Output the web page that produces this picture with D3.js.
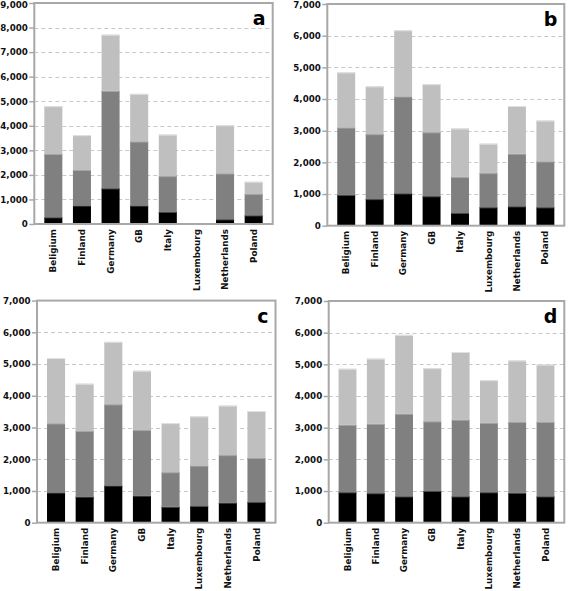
<!DOCTYPE html>
<html>
<head>
<meta charset="utf-8">
<script src="https://cdn.jsdelivr.net/npm/d3@7"></script>
<style>
  html, body { margin: 0; padding: 0; background: #ffffff; }
  svg { display: block; }
</style>
</head>
<body>
<svg id="chart" width="568" height="591"></svg>
<script>
// ---------- data ----------
const categories = ["Beligium", "Finland", "Germany", "GB", "Italy", "Luxembourg", "Netherlands", "Poland"];
const seriesKeys = ["s1", "s2", "s3"];

// Panel a
const aSeries1 = [270, 750, 1450, 750, 490, 0, 190, 350];
const aSeries2 = [2580, 1450, 3970, 2610, 1460, 0, 1870, 870];
const aSeries3 = [1950, 1420, 2290, 1940, 1690, 0, 1960, 500];
const aTicks = [0, 1000, 2000, 3000, 4000, 5000, 6000, 7000, 8000, 9000];

// Panel b
const bSeries1 = [970, 840, 1020, 930, 400, 580, 610, 580];
const bSeries2 = [2130, 2050, 3060, 2020, 1140, 1080, 1660, 1450];
const bSeries3 = [1740, 1510, 2090, 1520, 1530, 930, 1510, 1290];
const bTicks = [0, 1000, 2000, 3000, 4000, 5000, 6000, 7000];

// Panel c
const cSeries1 = [950, 820, 1170, 850, 500, 525, 630, 650];
const cSeries2 = [2180, 2070, 2560, 2070, 1090, 1275, 1500, 1390];
const cSeries3 = [2060, 1490, 1970, 1870, 1550, 1550, 1560, 1480];
const cTicks = [0, 1000, 2000, 3000, 4000, 5000, 6000, 7000];

// Panel d
const dSeries1 = [960, 930, 830, 1000, 830, 960, 940, 830];
const dSeries2 = [2130, 2190, 2610, 2200, 2420, 2190, 2240, 2350];
const dSeries3 = [1770, 2060, 2490, 1680, 2140, 1350, 1940, 1810];
const dTicks = [0, 1000, 2000, 3000, 4000, 5000, 6000, 7000];

const panelLetters = ["a", "b", "c", "d"];
const segmentColors = ["#000000", "#808080", "#bfbfbf"];
const segmentEdge = ["#4a4a4a", "#a6a6a6", "#e2e2e2"];

// ---------- layout ----------
const panels = [
  { letter: panelLetters[0], s: [aSeries1, aSeries2, aSeries3], ticks: aTicks,
    left: 34.3, right: 272.7, top: 3, bottom: 224 },
  { letter: panelLetters[1], s: [bSeries1, bSeries2, bSeries3], ticks: bTicks,
    left: 327.3, right: 564.3, top: 4, bottom: 225.7 },
  { letter: panelLetters[2], s: [cSeries1, cSeries2, cSeries3], ticks: cTicks,
    left: 37, right: 275.5, top: 300.6, bottom: 522.7 },
  { letter: panelLetters[3], s: [dSeries1, dSeries2, dSeries3], ticks: dTicks,
    left: 328.7, right: 564.3, top: 301, bottom: 522.7 }
];

const svg = d3.select("#chart");
const frameColor = "#a8a8a8";
const fontFam = "'DejaVu Sans', sans-serif";

panels.forEach(p => {
  const rows = categories.map((c, i) => ({ cat: c, s1: p.s[0][i], s2: p.s[1][i], s3: p.s[2][i] }));
  const stacked = d3.stack().keys(seriesKeys)(rows);
  const maxV = d3.max(p.ticks);

  const x = d3.scaleBand().domain(categories).range([p.left, p.right])
    .paddingInner(0.37).paddingOuter(0.35);
  const y = d3.scaleLinear().domain([0, maxV]).range([p.bottom, p.top]);

  const g = svg.append("g");

  // gridlines
  g.selectAll("line.grid").data(p.ticks.filter(t => t > 0 && t < maxV)).join("line")
    .attr("x1", p.left).attr("x2", p.right)
    .attr("y1", d => Math.round(y(d)) + 0.5).attr("y2", d => Math.round(y(d)) + 0.5)
    .attr("stroke", "#c8c8c8").attr("stroke-width", 1).attr("stroke-dasharray", "4,3");

  // bars
  stacked.forEach((layer, li) => {
    const lg = g.append("g");
    lg.selectAll("rect").data(layer).join("rect")
      .attr("x", d => x(d.data.cat))
      .attr("width", x.bandwidth())
      .attr("y", d => y(d[1]))
      .attr("height", d => Math.max(0, y(d[0]) - y(d[1])))
      .attr("fill", segmentColors[li]);
    lg.selectAll("line").data(layer.filter(d => d[1] > d[0])).join("line")
      .attr("x1", d => x(d.data.cat)).attr("x2", d => x(d.data.cat) + x.bandwidth())
      .attr("y1", d => y(d[1]) + 0.5).attr("y2", d => y(d[1]) + 0.5)
      .attr("stroke", segmentEdge[li]).attr("stroke-width", 1);
  });

  // frame
  g.append("rect")
    .attr("x", p.left).attr("y", p.top)
    .attr("width", p.right - p.left).attr("height", p.bottom - p.top)
    .attr("fill", "none").attr("stroke", frameColor).attr("stroke-width", 2);

  // y axis
  const yAxis = d3.axisLeft(y).tickValues(p.ticks).tickSize(5).tickPadding(1.5)
    .tickFormat(d3.format(","));
  const ya = g.append("g").attr("transform", `translate(${p.left},0)`).call(yAxis);
  ya.select(".domain").remove();
  ya.selectAll(".tick line").attr("stroke", frameColor).attr("stroke-width", 1.5);
  ya.selectAll(".tick text").attr("fill", "#111").attr("font-size", 8.7)
    .attr("font-family", fontFam).attr("font-weight", "bold")
    .attr("y", d => Math.max(0, 5 - y(d)));

  // x axis labels (rotated)
  const xAxis = d3.axisBottom(x).tickSize(0).tickPadding(0);
  const xa = g.append("g").attr("transform", `translate(0,${p.bottom})`).call(xAxis);
  xa.select(".domain").remove();
  xa.selectAll(".tick text")
    .attr("fill", "#111").attr("font-size", 8.8)
    .attr("font-family", fontFam).attr("font-weight", "bold")
    .attr("text-anchor", "end")
    .attr("transform", "rotate(-90)")
    .attr("x", -5).attr("y", 0).attr("dy", "0.35em");

  // panel letter
  g.append("text")
    .attr("x", p.right - 7).attr("y", p.top + 22)
    .attr("text-anchor", "end")
    .attr("font-family", fontFam)
    .attr("font-size", 19).attr("font-weight", "bold").attr("fill", "#000")
    .text(p.letter);
});
</script>
</body>
</html>
